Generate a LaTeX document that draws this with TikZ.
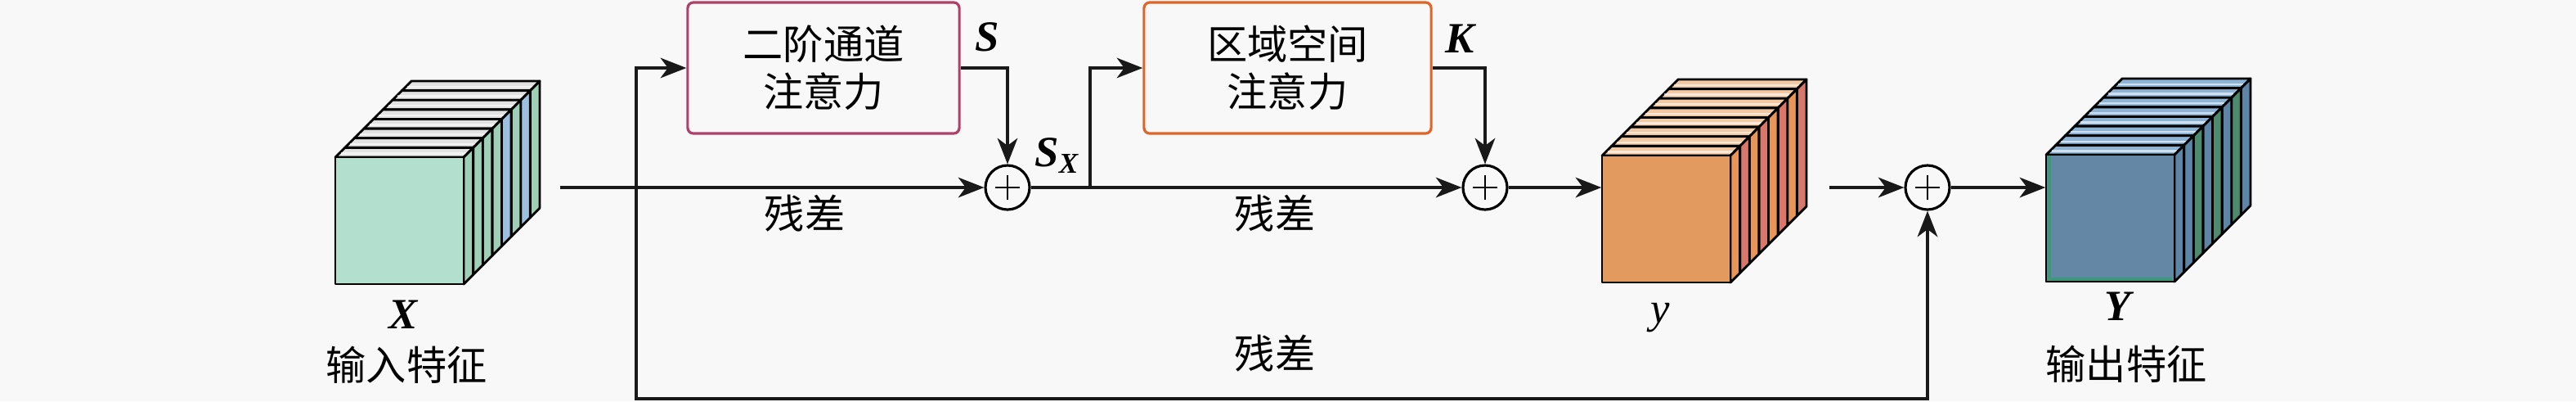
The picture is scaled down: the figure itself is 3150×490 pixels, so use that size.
\documentclass[tikz,border=0pt]{standalone}
\usepackage{fontspec}
\setmainfont{Liberation Serif}
\newfontfamily\cjk{Noto Sans CJK SC}
\usetikzlibrary{arrows.meta,calc}
\definecolor{bgc}{HTML}{F8F8F8}
\definecolor{xfront}{HTML}{B3DFCF}
\definecolor{xtop}{HTML}{E2E2E2}
\definecolor{xgreen}{HTML}{9FCFB6}
\definecolor{xblue}{HTML}{9CC0DF}
\definecolor{yfront}{HTML}{E39A5E}
\definecolor{ytop}{HTML}{F2C9A3}
\definecolor{yorange}{HTML}{E8955A}
\definecolor{yred}{HTML}{D9786A}
\definecolor{Yfront}{HTML}{6487A5}
\definecolor{Ytop}{HTML}{8DB3D5}
\definecolor{Yblue}{HTML}{5D85A8}
\definecolor{Ygreen}{HTML}{4E8A6E}
\definecolor{Yedge}{HTML}{3A9A78}
\definecolor{boxA}{HTML}{B0406A}
\definecolor{boxB}{HTML}{E06428}
\newcommand\featcube[5]{%
  \foreach \i/\sc in {#5}{%
    \pgfmathsetmacro\oa{\i*11.625}%
    \pgfmathsetmacro\ob{(\i+1)*11.625}%
    \pgfmathsetmacro\oc{(\i+0.4)*11.625}%
    \filldraw[fill=#4, cubeline] ({#1+\oa},{#2-\oa}) -- ({#1+157+\oa},{#2-\oa}) -- ({#1+157+\ob},{#2-\ob}) -- ({#1+\ob},{#2-\ob}) -- cycle;
    \draw[white, opacity=0.6, line width=0.7pt] ({#1+\oc+2},{#2-\oc}) -- ({#1+157+\oc-2},{#2-\oc});
    \filldraw[fill=\sc, cubeline] ({#1+157+\oa},{#2-\oa}) -- ({#1+157+\ob},{#2-\ob}) -- ({#1+157+\ob},{#2+155-\ob}) -- ({#1+157+\oa},{#2+155-\oa}) -- cycle;
  }%
  \filldraw[fill=#3, cubeline] (#1,#2) rectangle ({#1+157},{#2+155});
}
\begin{document}
\begin{tikzpicture}[x=0.01cm,y=-0.01cm,
  cubeline/.style={draw=black, line width=0.8pt, line join=round},
  conn/.style={line width=0.9pt, draw=black!90},
  arr/.style={conn, -{Stealth[length=9pt,width=7pt,inset=2.6pt]}},
  sumnode/.style={circle, draw=black, line width=0.9pt, minimum size=0.54cm, inner sep=0pt,
    path picture={\draw[line width=0.5pt] ([xshift=-4.2pt]path picture bounding box.center) -- ([xshift=4.2pt]path picture bounding box.center);
                  \draw[line width=0.5pt] ([yshift=-4.2pt]path picture bounding box.center) -- ([yshift=4.2pt]path picture bounding box.center);}},
  attbox/.style={rounded corners=2pt, line width=0.9pt, minimum height=1.60cm, align=center, inner sep=0pt,
    font=\cjk\fontsize{14pt}{16.5pt}\selectfont},
  cjklabel/.style={font=\cjk\fontsize{14pt}{16.5pt}\selectfont, inner sep=0pt},
  mathlabel/.style={font=\fontsize{15pt}{15pt}\selectfont\bfseries\itshape, inner sep=0pt},
  facenode/.style={minimum width=1.57cm, minimum height=1.55cm, inner sep=0pt}
]
\fill[bgc] (0,0) rectangle (3150,490);
\useasboundingbox (0,0) rectangle (3150,490);

% cubes
\featcube{410}{192}{xfront}{xtop}{7/xgreen,6/xblue,5/xgreen,4/xblue,3/xgreen,2/xgreen,1/xgreen,0/xgreen}
\featcube{1959}{190}{yfront}{ytop}{7/yred,6/yorange,5/yred,4/yorange,3/yred,2/yorange,1/yred,0/yorange}
\featcube{2502}{189}{Yfront}{Ytop}{7/Yblue,6/Ygreen,5/Yblue,4/Ygreen,3/Yblue,2/Ygreen,1/Yblue,0/Yblue}
\draw[Yedge, line width=1.1pt] (2506,189) -- (2506,341) -- (2656,341);
\draw[cubeline] (2502,189) rectangle (2659,344);

\node[facenode] (X) at (488.5,269.5) {};
\node[facenode] (ycube) at (2037.5,267.5) {};
\node[facenode] (Ycube) at (2580.5,266.5) {};

% attention boxes
\node[attbox, draw=boxA, minimum width=3.32cm] (box1) at (1007,83) {二阶通道\\注意力};
\node[attbox, draw=boxB, minimum width=3.51cm] (box2) at (1574.5,83) {区域空间\\注意力};

% sum nodes
\node[sumnode] (c1) at (1232,229) {};
\node[sumnode] (c2) at (1816,229) {};
\node[sumnode] (c3) at (2357,229) {};

% helper coordinates
\coordinate (Xout) at (685,229);
\coordinate (split1) at (778,229);
\coordinate (split2) at (1333,229);
\coordinate (yout) at (2237,229);

% connectors
\draw[arr] (Xout) -- (c1.west);
\draw[arr] (split1) |- (box1.west);
\draw[arr] (split1) -- (778,487) -| (c3.south);
\draw[arr] (box1.east) -| (c1.north);
\draw[arr] (c1.east) -- (c2.west);
\draw[arr] (split2) |- (box2.west);
\draw[arr] (box2.east) -| (c2.north);
\draw[arr] (c2.east) -- (c2.east -| ycube.west);
\draw[arr] (yout) -- (c3.west);
\draw[arr] (c3.east) -- (c3.east -| Ycube.west);

% labels
\node[mathlabel] (lS) at (1207,45) {S};
\node[mathlabel] (lK) at (1785,47) {K};
\node[mathlabel] (lSX) at (1292,190) {S\raisebox{-0.35ex}{\fontsize{10pt}{10pt}\selectfont X}};
\node[cjklabel] (r1) at (984,261) {残差};
\node[cjklabel] (r2) at (1559,261) {残差};
\node[cjklabel] (r3) at (1559,432) {残差};
\node[mathlabel] (lX) at (493,384) {X};
\node[cjklabel] (in) at (497,446) {输入特征};
\node[font=\fontsize{15pt}{15pt}\selectfont\itshape, inner sep=0pt] (ly) at (2030,388) {y};
\node[mathlabel] (lY) at (2590,374) {Y};
\node[cjklabel] (out) at (2600,445) {输出特征};
\end{tikzpicture}
\end{document}
